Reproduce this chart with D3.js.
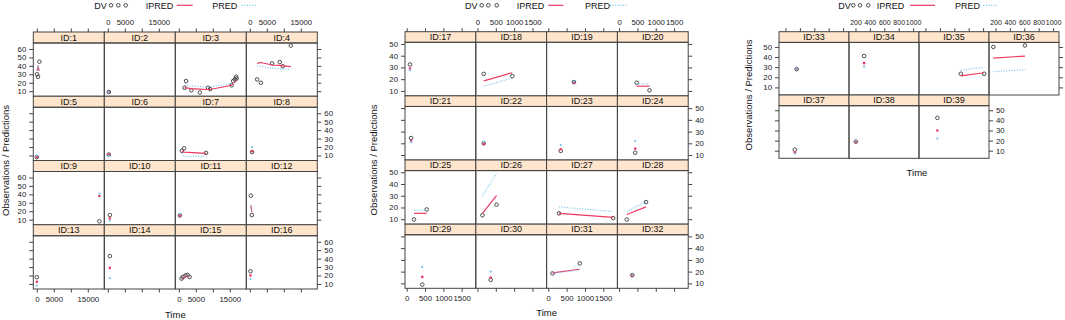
<!DOCTYPE html>
<html lang="en">
<head>
  <meta charset="UTF-8">
  <title>DV / IPRED / PRED by ID</title>
  <style>
    body { margin: 0; background: #fff; }
    svg { font-family: "Liberation Sans", Arial, sans-serif; }
    .frame { fill: none; stroke: #444; stroke-width: 1px; }
    .strip { fill: #ffe5cc; stroke: #444; stroke-width: 1px; }
    .stripText { font-size: 9px; text-anchor: middle; fill: #111; }
    .axis text { font-size: 7.8px; fill: #222; font-family: "Liberation Sans", Arial, sans-serif; }
    .axis.small text { font-size: 7px; }
    .axis line { stroke: #444; }
    .axis path { display: none; }
    .dv { fill: none; stroke: #3a3a3a; stroke-width: 0.9px; }
    .ipred { fill: none; stroke: #ee3a62; stroke-width: 1.2px; }
    .pred { fill: none; stroke: #74c2ee; stroke-width: 1.2px; stroke-dasharray: 1,1.6; }
    .title { font-size: 9.5px; fill: #111; }
    .legend { font-size: 9px; fill: #111; }
  </style>
</head>
<body>
  <script src="https://cdn.jsdelivr.net/npm/d3@7"></script>
  <script>
    // one entry per ID (ID:1 ... ID:39)
    const time = [
      [100, 350, 750], [300], [1700, 2150, 3700, 6200, 8600, 9200, 15500, 16000, 16500, 16850, 17000],
      [2150, 3250, 6550, 8800, 9700, 12050], [0], [300], [900, 1550, 8000], [700],
      [18400], [600], [300], [300, 600], [0], [600], [800, 1200, 2000, 2550, 3150], [200],
      [90], [170, 950], [700], [480, 830], [120], [170], [340], [440],
      [200, 545], [135, 520], [290, 1770], [210, 735], [425], [360], [115, 860], [360],
      [355], [320], [690, 1015], [170, 610], [330], [205], [365]
    ];
    const dv = [
      [30, 27, 45], [9], [14, 22, 11, 8.5, 14, 12.5, 17, 22, 24, 27, 25],
      [24, 20, 43, 44.5, 39.5, 64], [8], [11], [15.5, 18.5, 13], [14],
      [8], [15.5], [15], [38.5, 15.5], [18], [43], [16.3, 18.3, 20.2, 20.7, 18.3], [25],
      [32.5], [24.5, 22.5], [17.5], [17, 10.5], [24.5], [20], [13.5], [12],
      [9.8, 18.3], [13.4, 22.4], [15, 11], [9.7, 24.6], [9], [13], [18.5, 27], [17],
      [28], [41], [23.5, 23.5], [50, 51.5], [11], [19], [42.5]
    ];
    const ipred = [
      [34, 39, 34], [9], [14, 14, 13, 12.5, 12, 12, 17, 20, 21, 22, 23],
      [43, 44, 41, 40.5, 40, 39], [8], [11], [15, 14, 12.5], [15],
      [38], [11.5], [15], [27, 19], [12.5], [29], [15.5, 17.5, 19, 19.5, 18.5], [20],
      [29], [18.5, 25.5], [17], [14, 14], [22], [19.5], [15], [15.5],
      [15, 15], [15, 30], [15, 11.5], [14, 20.5], [15.5], [15], [19, 22], [17],
      [28], [34], [21.5, 24.5], [39, 41], [8.5], [19], [30]
    ];
    const pred = [
      [34, 38, 34], [9], [17, 17, 16, 15.5, 15, 15, 19, 20.5, 21, 21.5, 22],
      [40, 39.5, 37, 36.5, 36, 36], [10], [9.5], [13, 9, 9], [20],
      [41], [9], [17], [27.5, 19.5], [8], [17], [16, 18, 19.5, 20, 19], [16],
      [27.5], [14, 21], [18], [16, 16], [21], [21.5], [18.5], [22],
      [17.5, 18], [30, 49], [20.5, 16.5], [16.5, 25], [24], [20], [18.5, 21.5], [17.5],
      [28], [30.5], [27, 30], [25.5, 27.5], [7], [20], [22]
    ];

    const idsA = d3.range(1, 17), idsB = d3.range(17, 33), idsC = d3.range(33, 40);
    const xTicksA = [0, 5000, 10000, 15000], xLabelsA = [0, 5000, 15000];
    const xTicksB = [0, 500, 1000, 1500], xLabelsB = [0, 500, 1000, 1500];
    const xTicksC = [200, 400, 600, 800, 1000], xLabelsC = [200, 400, 600, 800, 1000];
    const yTicksA = [10, 20, 30, 40, 50, 60], yTicksB = [10, 20, 30, 40, 50];

    const svg = d3.select('body').append('svg').attr('width', 1065).attr('height', 320);

    const charts = [
      { ids: idsA, left: 33.3, right: 317.3, top: 32, bottom: 289, strip: 11,
        xDomain: [-1030, 19850], yDomain: [4, 67.1], xTicks: xTicksA, xLabels: xLabelsA, yTicks: yTicksA,
        bottomAxis: true, xAxisClass: 'axis', titleX: 175.3, timeY: 318, yTitleX: 9,
        legend: { dv: 94.3, dots: [111, 118.3, 125.7], ipred: 145.7, red: [176.7, 192.7], pred: 212.3, blue: [241.7, 257.3] } },
      { ids: idsB, left: 405, right: 688.2, top: 31.7, bottom: 288.3, strip: 10.6,
        xDomain: [-46, 1885], yDomain: [5.8, 51.4], xTicks: xTicksB, xLabels: xLabelsB, yTicks: yTicksB,
        bottomAxis: true, xAxisClass: 'axis', titleX: 546.6, timeY: 316, yTitleX: 377,
        legend: { dv: 465, dots: [481.7, 488.3, 496.7], ipred: 516.7, red: [548.3, 563.3], pred: 585, blue: [610, 628.3] } },
      { ids: idsC, left: 779, right: 1059, top: 31.7, bottom: 158.3, strip: 10.7,
        xDomain: [110, 1082], yDomain: [2.5, 54.5], xTicks: xTicksC, xLabels: xLabelsC, yTicks: yTicksB,
        bottomAxis: false, xAxisClass: 'axis small', titleX: 917, timeY: 176, yTitleX: 752,
        legend: { dv: 838.3, dots: [853.3, 860, 868.3], ipred: 876.7, red: [910, 935], pred: 955, blue: [983.3, 997] } }
    ];

    charts.forEach(drawChart);

    function drawChart(cfg){
      const nRows = Math.ceil(cfg.ids.length / 4);
      const col = d3.scaleBand().domain(d3.range(4)).range([cfg.left, cfg.right]);
      const row = d3.scaleBand().domain(d3.range(nRows)).range([cfg.top, cfg.bottom]);
      const pw = col.bandwidth(), rh = row.bandwidth(), ph = rh - cfg.strip;
      const x = d3.scaleLinear().domain(cfg.xDomain).range([0, pw]);
      const y = d3.scaleLinear().domain(cfg.yDomain).range([ph, 0]);
      const line = d3.line().x(d => x(d.t));

      cfg.ids.forEach(function(id, i){
        const c = i % 4, r = Math.floor(i / 4);
        const g = svg.append('g').attr('transform', `translate(${col(c)},${row(r)})`);
        g.append('rect').attr('class', 'strip').attr('width', pw).attr('height', cfg.strip);
        g.append('text').attr('class', 'stripText').attr('x', pw / 2).attr('y', cfg.strip - 2.3).text('ID:' + id);

        const p = g.append('g').attr('transform', `translate(0,${cfg.strip})`);
        p.append('rect').attr('class', 'frame').attr('width', pw).attr('height', ph);

        const pts = time[id - 1].map((t, k) => ({ t: t, dv: dv[id - 1][k], ipred: ipred[id - 1][k], pred: pred[id - 1][k] }));

        // DV circles
        p.selectAll('circle.dv').data(pts).enter().append('circle')
          .attr('class', 'dv').attr('cx', d => x(d.t)).attr('cy', d => y(d.dv)).attr('r', 1.8);

        if (pts.length > 1){
          p.append('path').attr('class', 'ipred').attr('d', line.y(d => y(d.ipred))(pts));
          p.append('path').attr('class', 'pred').attr('d', line.y(d => y(d.pred))(pts));
        } else {
          p.append('circle').attr('cx', x(pts[0].t)).attr('cy', y(pts[0].ipred)).attr('r', 1.3).attr('fill', '#ee3a62');
          p.append('circle').attr('cx', x(pts[0].t)).attr('cy', y(pts[0].pred)).attr('r', 1.1).attr('fill', '#74c2ee');
        }

        const fmtX = lab => (d => lab ? (cfg.xLabels.includes(d) ? d : '') : '');
        const fmtY = lab => (d => lab ? d : '');

        if (r === 0){
          g.append('g').attr('class', cfg.xAxisClass)
            .call(d3.axisTop(x).tickValues(cfg.xTicks).tickSize(3.5).tickPadding(3.5).tickFormat(fmtX(c % 2 === 1)));
        }
        if (r === nRows - 1 && cfg.bottomAxis){
          g.append('g').attr('class', cfg.xAxisClass).attr('transform', `translate(0,${rh})`)
            .call(d3.axisBottom(x).tickValues(cfg.xTicks).tickSize(3.5).tickPadding(3.5).tickFormat(fmtX(c % 2 === 0)));
        }
        if (c === 0){
          g.append('g').attr('class', 'axis').attr('transform', `translate(0,${cfg.strip})`)
            .call(d3.axisLeft(y).tickValues(cfg.yTicks).tickSize(4).tickPadding(3).tickFormat(fmtY(r % 2 === 0)));
        }
        if (c === 3 || i === cfg.ids.length - 1){
          g.append('g').attr('class', 'axis').attr('transform', `translate(${pw},${cfg.strip})`)
            .call(d3.axisRight(y).tickValues(cfg.yTicks).tickSize(4).tickPadding(3).tickFormat(fmtY(r % 2 === 1)));
        }
      });

      // titles
      svg.append('text').attr('class', 'title').attr('x', cfg.titleX).attr('y', cfg.timeY)
        .attr('text-anchor', 'middle').text('Time');
      const midY = (cfg.top + cfg.bottom) / 2;
      svg.append('text').attr('class', 'title').attr('text-anchor', 'middle')
        .attr('transform', `translate(${cfg.yTitleX},${midY}) rotate(-90)`).text('Observations / Predictions');

      // legend
      const L = cfg.legend, ly = 5.3;
      svg.append('text').attr('class', 'legend').attr('x', L.dv).attr('y', 8.5).text('DV');
      L.dots.forEach(dx => svg.append('circle').attr('class', 'dv').attr('cx', dx).attr('cy', ly).attr('r', 1.8));
      svg.append('text').attr('class', 'legend').attr('x', L.ipred).attr('y', 8.5).text('IPRED');
      svg.append('line').attr('class', 'ipred').attr('x1', L.red[0]).attr('x2', L.red[1]).attr('y1', ly).attr('y2', ly);
      svg.append('text').attr('class', 'legend').attr('x', L.pred).attr('y', 8.5).text('PRED');
      svg.append('line').attr('class', 'pred').attr('x1', L.blue[0]).attr('x2', L.blue[1]).attr('y1', ly).attr('y2', ly);
    }
  </script>
</body>
</html>
